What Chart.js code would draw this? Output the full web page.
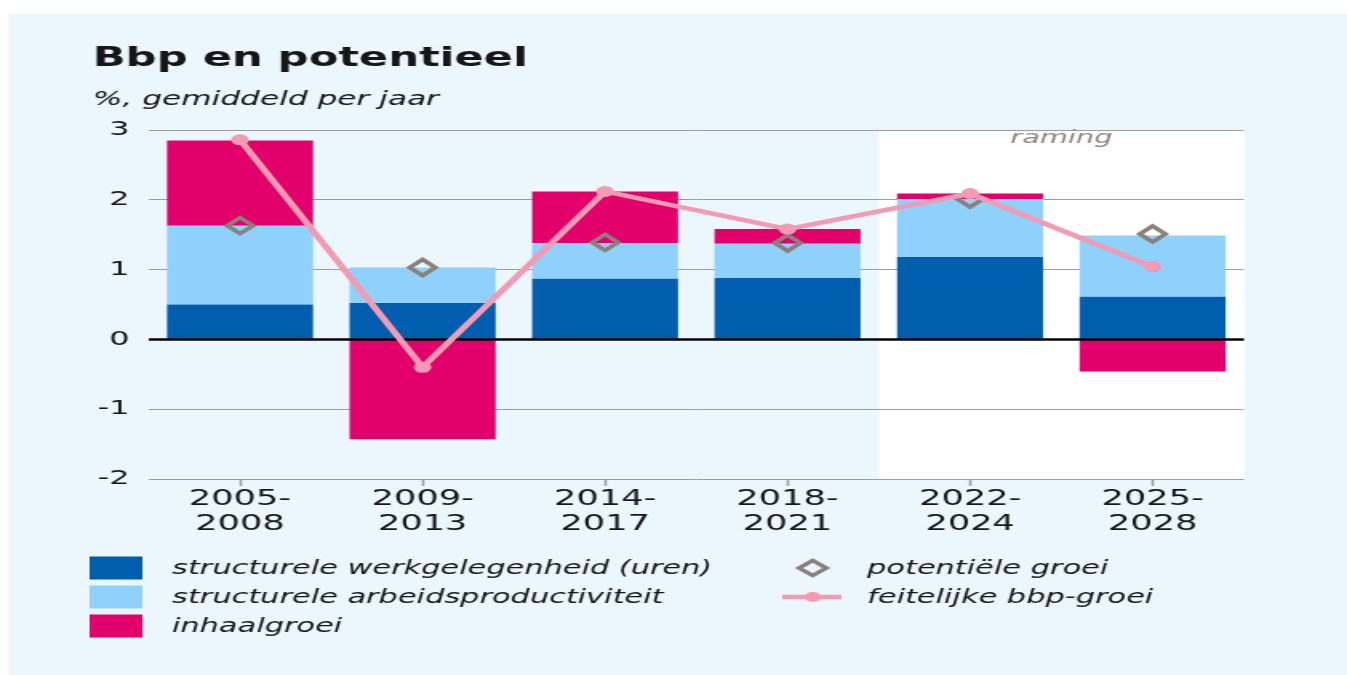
<!DOCTYPE html>
<html lang="nl">
<head>
<meta charset="utf-8">
<title>Bbp en potentieel</title>
<script src="https://cdn.jsdelivr.net/npm/chart.js@4.4.1/dist/chart.umd.min.js"></script>
<style>
  html, body { margin: 0; padding: 0; background: #fff; }
  #chart { display: block; }
</style>
</head>
<body>
<!-- the source graphic is stretched sideways, so the canvas is drawn narrow and widened by css -->
<canvas id="chart" width="842" height="675" style="width:1347px;height:675px"></canvas>
<script>
const periods = [
  ['2005-', '2008'], ['2009-', '2013'], ['2014-', '2017'],
  ['2018-', '2021'], ['2022-', '2024'], ['2025-', '2028'],
];
const werkgelegenheid = [0.50, 0.52, 0.87, 0.88, 1.18, 0.61];
const productiviteit = [1.13, 0.51, 0.51, 0.49, 0.83, 0.88];
const inhaalgroei = [1.22, -1.43, 0.74, 0.21, 0.08, -0.46];
const potentieel = [1.63, 1.03, 1.39, 1.38, 2.01, 1.51];
const feitelijk = [2.86, -0.40, 2.12, 1.58, 2.09, 1.04];
const yTicks = [-2, -1, 0, 1, 2, 3];
const forecastStart = 4; // first period that is a forecast (raming)

const FONT = "'DejaVu Sans', sans-serif";
const C = {
  panel: '#ebf6fd',
  dark: '#015eae',
  light: '#8fd1fb',
  pink: '#e2006b',
  line: '#f29bb2',
  diamond: '#8b807b',
  grid: '#9c9c9c',
  text: '#161616',
};

const barSeries = [
  { label: 'structurele werkgelegenheid (uren)', data: werkgelegenheid, color: C.dark },
  { label: 'structurele arbeidsproductiviteit', data: productiviteit, color: C.light },
  { label: 'inhaalgroei', data: inhaalgroei, color: C.pink },
];

const frame = {
  id: 'frame',
  beforeDraw(chart) {
    const { ctx, chartArea: a, scales: { x } } = chart;
    ctx.save();
    ctx.fillStyle = '#fff';
    ctx.fillRect(0, 0, chart.width, chart.height);
    ctx.fillStyle = C.panel;
    ctx.fillRect(5.6, 14, chart.width - 5.6, chart.height - 14);

    // forecast block
    const left = (x.getPixelForValue(forecastStart - 1) + x.getPixelForValue(forecastStart)) / 2;
    ctx.fillStyle = '#fff';
    ctx.fillRect(left, a.top, a.right - left, a.bottom - a.top);
    ctx.fillStyle = '#8c8584';
    ctx.font = `italic 18px ${FONT}`;
    ctx.textAlign = 'center';
    ctx.textBaseline = 'alphabetic';
    ctx.fillText('raming', (left + a.right) / 2, a.top + 13);
    ctx.restore();
  },
  afterDatasetDraw(chart, args) {
    // zero line goes over the bars but under the line series
    if (args.index !== 0) return;
    const { ctx, chartArea: a, scales: { y } } = chart;
    const y0 = y.getPixelForValue(0);
    ctx.save();
    ctx.strokeStyle = '#000';
    ctx.lineWidth = 2.5;
    ctx.beginPath();
    ctx.moveTo(a.left, y0);
    ctx.lineTo(a.right, y0);
    ctx.stroke();
    ctx.restore();
  },
  afterDraw(chart) {
    const { ctx } = chart;
    ctx.save();
    ctx.fillStyle = C.text;
    ctx.textAlign = 'left';
    ctx.textBaseline = 'alphabetic';
    ctx.font = `bold 27px ${FONT}`;
    ctx.fillText('Bbp en potentieel', 58, 66);
    ctx.font = `italic 19.5px ${FONT}`;
    ctx.fillText('%, gemiddeld per jaar', 58, 105);

    // legend, two columns
    const rows = [568, 597, 626];
    ctx.font = `italic 19px ${FONT}`;
    ctx.textBaseline = 'middle';
    barSeries.forEach((s, i) => {
      ctx.fillStyle = s.color;
      ctx.fillRect(56, rows[i] - 11.5, 33, 23);
      ctx.fillStyle = C.text;
      ctx.fillText(s.label, 107.5, rows[i] + 1);
    });

    const cx = 508;
    ctx.strokeStyle = C.diamond;
    ctx.lineWidth = 3.5;
    ctx.beginPath();
    ctx.moveTo(cx, rows[0] - 7.5);
    ctx.lineTo(cx + 8.5, rows[0]);
    ctx.lineTo(cx, rows[0] + 7.5);
    ctx.lineTo(cx - 8.5, rows[0]);
    ctx.closePath();
    ctx.stroke();
    ctx.fillStyle = C.text;
    ctx.fillText('potentiële groei', 542, rows[0] + 1);

    ctx.strokeStyle = C.line;
    ctx.lineWidth = 4.5;
    ctx.beginPath();
    ctx.moveTo(489, rows[1]);
    ctx.lineTo(526, rows[1]);
    ctx.stroke();
    ctx.fillStyle = C.line;
    ctx.beginPath();
    ctx.arc(cx, rows[1], 5, 0, Math.PI * 2);
    ctx.fill();
    ctx.fillStyle = C.text;
    ctx.fillText('feitelijke bbp-groei', 542, rows[1] + 1);
    ctx.restore();
  },
};

new Chart(document.getElementById('chart'), {
  type: 'bar',
  data: {
    labels: periods,
    datasets: [
      ...barSeries.map(s => ({
        label: s.label,
        data: s.data,
        backgroundColor: s.color,
        borderWidth: 0,
        barPercentage: 0.8,
        categoryPercentage: 1,
        order: 2,
      })),
      {
        type: 'line',
        label: 'potentiële groei',
        data: potentieel,
        stack: 'pot',
        showLine: false,
        pointStyle: 'rectRot',
        pointRadius: 8,
        pointBorderWidth: 3.5,
        pointBorderColor: C.diamond,
        pointBackgroundColor: 'rgba(0,0,0,0)',
        order: 1,
      },
      {
        type: 'line',
        label: 'feitelijke bbp-groei',
        data: feitelijk,
        stack: 'bbp',
        borderColor: C.line,
        borderWidth: 4.5,
        pointRadius: 5.5,
        pointBorderWidth: 0,
        pointBackgroundColor: C.line,
        tension: 0,
        order: 0,
      },
    ],
  },
  options: {
    responsive: false,
    devicePixelRatio: 1,
    animation: false,
    events: [],
    layout: { padding: { top: 130, right: 64.5, bottom: 0, left: 0 } },
    plugins: {
      legend: { display: false },
      tooltip: { enabled: false },
    },
    scales: {
      x: {
        stacked: true,
        border: { display: false },
        grid: {
          offset: false,
          drawOnChartArea: false,
          drawTicks: true,
          tickLength: 7,
          tickColor: C.grid,
          tickWidth: 1.5,
        },
        ticks: {
          color: C.text,
          font: { family: FONT, size: 22, lineHeight: 1.12 },
          padding: 1,
          autoSkip: false,
          maxRotation: 0,
        },
        afterFit: s => { s.height = 196; },
      },
      y: {
        stacked: true,
        min: yTicks[0],
        max: yTicks[yTicks.length - 1],
        border: { display: false },
        grid: { color: C.grid, lineWidth: 1, drawTicks: false },
        afterBuildTicks: s => { s.ticks = yTicks.map(v => ({ value: v })); },
        ticks: {
          color: C.text,
          font: { family: FONT, size: 20 },
          padding: 12,
        },
        afterFit: s => { s.width = 93; },
      },
    },
  },
  plugins: [frame],
});
</script>
</body>
</html>
